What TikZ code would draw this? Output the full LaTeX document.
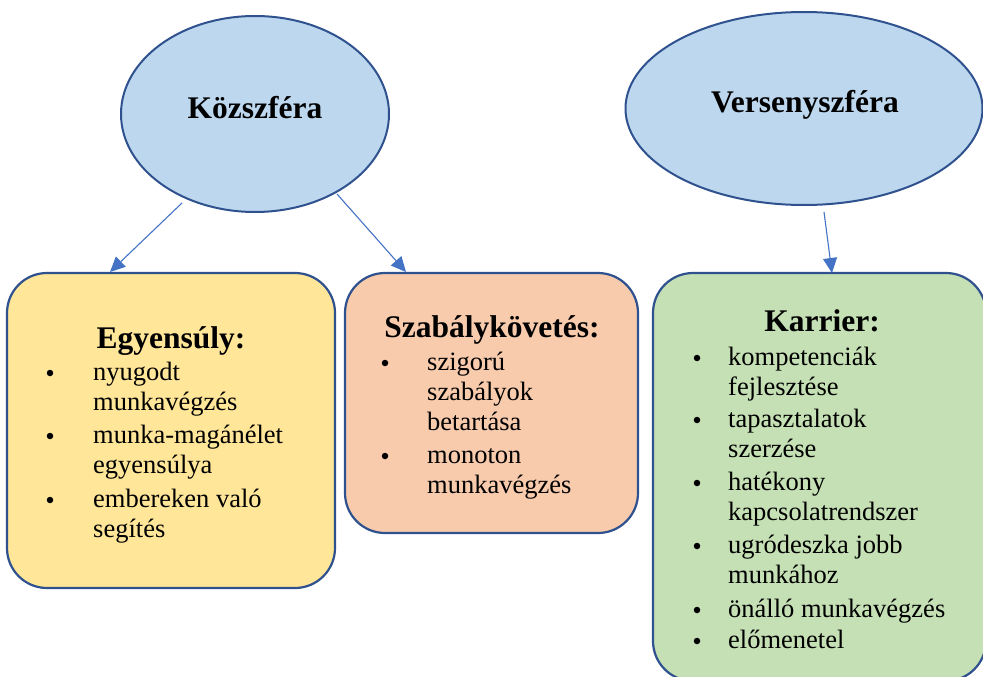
\documentclass[tikz,border=0pt]{standalone}
\usepackage{fontspec}
\setmainfont{Liberation Serif}
\usetikzlibrary{shapes.geometric,arrows.meta}
\definecolor{edgeblue}{HTML}{2F528F}
\definecolor{arrowblue}{HTML}{4472C4}
\definecolor{ellfill}{HTML}{BDD7EE}
\definecolor{yelfill}{HTML}{FFE699}
\definecolor{orafill}{HTML}{F8CBAD}
\definecolor{grefill}{HTML}{C5E0B4}
\tikzset{
  sphere/.style={ellipse,draw=edgeblue,line width=2pt,fill=ellfill,inner sep=0pt},
  card/.style={rectangle,rounded corners=40pt,draw=edgeblue,line width=2.2pt,inner sep=0pt},
  headtxt/.style={inner sep=0pt,anchor=base,font=\rmfamily\bfseries\fontsize{31.5}{36}\selectfont},
  itemtxt/.style={inner sep=0pt,anchor=base west,font=\rmfamily\fontsize{26.5}{30}\selectfont},
  dot/.style={circle,fill=black,inner sep=0pt,minimum size=6.5pt},
  link/.style={draw=arrowblue,line width=1.1pt,-{Triangle[length=15pt,width=14pt]}}
}
\begin{document}
\begin{tikzpicture}[x=1pt,y=-1pt]
\useasboundingbox (0,0) rectangle (983,677);
% ellipses
\node[sphere,minimum width=268pt,minimum height=196pt] (kozell) at (255,114) {};
\node[headtxt] (koz) at (255,118) {Közszféra};
\node[sphere,minimum width=357pt,minimum height=193pt] (verell) at (804,108.5) {};
\node[headtxt] (ver) at (805,113) {Versenyszféra};
% boxes
\node[card,fill=yelfill,minimum width=328pt,minimum height=315pt] (b1) at (171,430.5) {};
\node[card,fill=orafill,minimum width=293pt,minimum height=260pt] (b2) at (491.5,403) {};
\node[card,fill=grefill,minimum width=333pt,minimum height=408pt] (b3) at (819.5,477) {};
% arrows
\coordinate (s1) at (182,203);
\coordinate (e1) at (110,272);
\coordinate (s2) at (337,194);
\coordinate (e2) at (406,272);
\coordinate (s3) at (824,212);
\coordinate (e3) at (832,273);
\draw[link] (s1) -- (e1);
\draw[link] (s2) -- (e2);
\draw[link] (s3) -- (e3);
% box 1 text
\node[headtxt] (t1) at (171,348) {Egyensúly:};
\node[dot] (d11) at (50,373) {};
\node[itemtxt] (l11) at (93,380) {nyugodt};
\node[itemtxt] (l12) at (93,410) {munkavégzés};
\node[dot] (d12) at (50,436) {};
\node[itemtxt] (l13) at (93,443) {munka-magánélet};
\node[itemtxt] (l14) at (93,473) {egyensúlya};
\node[dot] (d13) at (50,500) {};
\node[itemtxt] (l15) at (93,507) {embereken való};
\node[itemtxt] (l16) at (93,537) {segítés};
% box 2 text
\node[headtxt] (t2) at (492,337) {Szabálykövetés:};
\node[dot] (d21) at (385,363) {};
\node[itemtxt] (l21) at (427,370) {szigorú};
\node[itemtxt] (l22) at (427,400) {szabályok};
\node[itemtxt] (l23) at (427,430) {betartása};
\node[dot] (d22) at (385,456) {};
\node[itemtxt] (l24) at (427,463) {monoton};
\node[itemtxt] (l25) at (427,493) {munkavégzés};
% box 3 text
\node[headtxt] (t3) at (822,331) {Karrier:};
\node[dot] (d31) at (697,358) {};
\node[itemtxt] (l31) at (728,365) {kompetenciák};
\node[itemtxt] (l32) at (728,395) {fejlesztése};
\node[dot] (d32) at (697,420) {};
\node[itemtxt] (l33) at (728,427) {tapasztalatok};
\node[itemtxt] (l34) at (728,457) {szerzése};
\node[dot] (d33) at (697,483) {};
\node[itemtxt] (l35) at (728,490) {hatékony};
\node[itemtxt] (l36) at (728,520) {kapcsolatrendszer};
\node[dot] (d34) at (697,546) {};
\node[itemtxt] (l37) at (728,553) {ugródeszka jobb};
\node[itemtxt] (l38) at (728,583) {munkához};
\node[dot] (d35) at (697,610) {};
\node[itemtxt] (l39) at (728,617) {önálló munkavégzés};
\node[dot] (d36) at (697,641) {};
\node[itemtxt] (l310) at (728,648) {előmenetel};
\end{tikzpicture}
\end{document}
